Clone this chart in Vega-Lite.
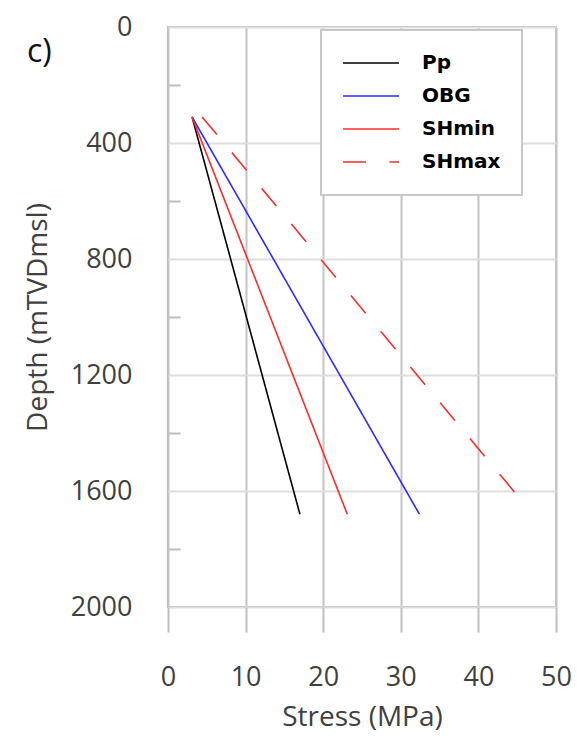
{
  "$schema": "https://vega.github.io/schema/vega-lite/v6.json",
  "width": 388,
  "height": 580,
  "autosize": {"type": "none"},
  "padding": {"left": 168, "top": 27, "right": 21, "bottom": 130},
  "background": "white",
  "title": {"text": "c)", "anchor": "start", "frame": "group", "orient": "top", "dx": -141, "offset": -81, "baseline": "alphabetic", "font": "Open Sans", "fontSize": 32, "fontWeight": "normal", "color": "#111111"},
  "config": {
    "view": {"stroke": "#bfbfbf", "strokeWidth": 2},
    "font": "Open Sans",
    "legend": {"strokeWidth": 2}
  },
  "data": {
    "values": [
      {"series": "Pp", "stress": 3.1, "depth": 310},
      {"series": "Pp", "stress": 17.0, "depth": 1680},
      {"series": "OBG", "stress": 3.1, "depth": 310},
      {"series": "OBG", "stress": 32.4, "depth": 1680},
      {"series": "SHmin", "stress": 3.1, "depth": 310},
      {"series": "SHmin", "stress": 23.1, "depth": 1680},
      {"series": "SHmax", "stress": 4.4, "depth": 310},
      {"series": "SHmax", "stress": 44.7, "depth": 1605}
    ]
  },
  "layer": [
    {
      "mark": {"type": "line", "strokeCap": "butt"},
      "encoding": {
        "x": {
          "field": "stress", "type": "quantitative",
          "scale": {"domain": [0, 50], "nice": false, "zero": false},
          "axis": {
            "values": [0, 5, 10, 15, 20, 25, 30, 35, 40, 45, 50],
            "title": "Stress (MPa)",
            "grid": true,
            "gridColor": {"condition": {"test": "datum.value % 10 === 0", "value": "#c4c4c4"}, "value": "#dedede"},
            "gridWidth": 2,
            "ticks": true, "tickSize": 25, "tickColor": "#bfbfbf", "tickWidth": 2,
            "tickOpacity": {"condition": {"test": "datum.value % 10 === 0", "value": 1}, "value": 0},
            "labelExpr": "datum.value % 10 === 0 ? datum.label : ''",
            "format": "d",
            "domain": false,
            "labelFont": "Open Sans", "labelFontSize": 27, "labelColor": "#404040", "labelPadding": 32,
            "labelOverlap": false, "labelFlush": false,
            "titleFont": "Open Sans", "titleFontSize": 28, "titleFontWeight": "normal", "titleColor": "#404040", "titlePadding": 13
          }
        },
        "y": {
          "field": "depth", "type": "quantitative",
          "scale": {"domain": [0, 2000], "reverse": true, "nice": false, "zero": false},
          "axis": {
            "values": [0, 400, 800, 1200, 1600, 2000],
            "format": "d",
            "title": "Depth (mTVDmsl)",
            "grid": true, "gridColor": "#dedede", "gridWidth": 2,
            "ticks": false, "tickSize": 0, "domain": false,
            "labelFont": "Open Sans", "labelFontSize": 27, "labelColor": "#404040", "labelPadding": 36,
            "labelOverlap": false, "labelFlush": false,
            "titleFont": "Open Sans", "titleFontSize": 28, "titleFontWeight": "normal", "titleColor": "#404040", "titlePadding": 18
          }
        },
        "color": {
          "field": "series", "type": "nominal", "sort": ["Pp", "OBG", "SHmin", "SHmax"],
          "scale": {"domain": ["Pp", "OBG", "SHmin", "SHmax"], "range": ["#000000", "#2b2bff", "#ff2b2b", "#ff2b2b"]},
          "legend": {
            "title": null, "orient": "none", "legendX": 153, "legendY": 3, "padding": 21,
            "fillColor": "white", "strokeColor": "#c8c8c8", "cornerRadius": 0,
            "symbolType": "stroke", "symbolSize": 3136, "symbolStrokeWidth": 2,
            "labelFont": "DejaVu Sans", "labelFontWeight": "bold", "labelFontSize": 20, "labelColor": "#000000",
            "labelOffset": 22, "clipHeight": 24, "rowPadding": 9
          }
        },
        "strokeDash": {
          "field": "series", "type": "nominal", "sort": ["Pp", "OBG", "SHmin", "SHmax"],
          "scale": {"domain": ["Pp", "OBG", "SHmin", "SHmax"], "range": [[1, 0], [1, 0], [1, 0], [23, 23.5]]},
          "legend": {
            "title": null, "orient": "none", "legendX": 153, "legendY": 3, "padding": 21,
            "fillColor": "white", "strokeColor": "#c8c8c8", "cornerRadius": 0,
            "symbolType": "stroke", "symbolSize": 3136, "symbolStrokeWidth": 2,
            "labelFont": "DejaVu Sans", "labelFontWeight": "bold", "labelFontSize": 20, "labelColor": "#000000",
            "labelOffset": 22, "clipHeight": 24, "rowPadding": 9
          }
        },
        "strokeWidth": {
          "field": "series", "type": "nominal",
          "scale": {"domain": ["Pp", "OBG", "SHmin", "SHmax"], "range": [1.6, 1.6, 1.6, 2.6]},
          "legend": null
        }
      }
    },
    {
      "mark": {"type": "point", "opacity": 0, "size": 1},
      "encoding": {
        "x": {"field": "stress", "type": "quantitative"},
        "y": {
          "field": "depth", "type": "quantitative",
          "axis": {
            "values": [200, 600, 1000, 1400, 1800], "orient": "left",
            "labels": false, "grid": false, "domain": false,
            "ticks": true, "tickSize": -12, "tickColor": "#bfbfbf", "tickWidth": 2, "title": null
          }
        }
      }
    }
  ],
  "resolve": {"axis": {"y": "independent"}}
}
